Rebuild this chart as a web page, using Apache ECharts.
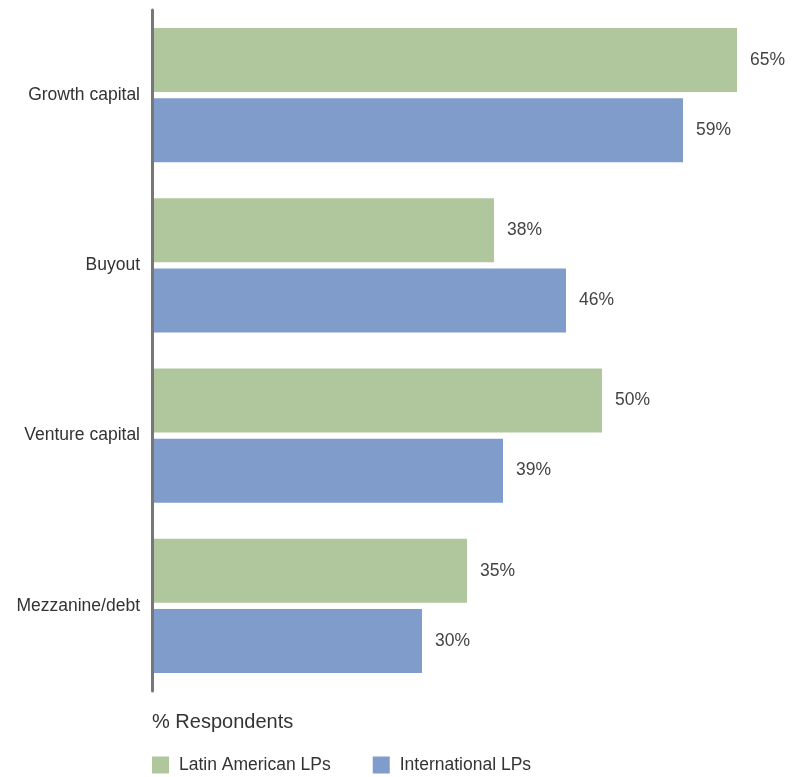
<!DOCTYPE html>
<html><head><meta charset="utf-8">
<script src="https://cdn.jsdelivr.net/npm/echarts@6/dist/echarts.min.js"></script>
<style>html,body{margin:0;padding:0;background:#fff}#c{width:801px;height:777px}</style>
</head><body><div id="c"></div>
<script>
const categories = ["Growth capital", "Buyout", "Venture capital", "Mezzanine/debt"];
const latinAmerican = [65, 38, 50, 35];
const international = [59, 46, 39, 30];
const seriesNames = ["Latin American LPs", "International LPs"];
const axisTitle = "% Respondents";

const chart = echarts.init(document.getElementById('c'));
const font = "'Liberation Sans', Arial, sans-serif";
const lbl = {show: true, position: 'right', distance: 13, formatter: '{c}%', fontSize: 17.5, color: '#444', fontFamily: font};
chart.setOption({
  animation: false,
  title: {text: axisTitle, left: 147, top: 707, textStyle: {fontSize: 20, fontWeight: 'normal', color: '#333', fontFamily: font}},
  legend: {left: 147, top: 751, itemWidth: 17, itemHeight: 17, itemGap: 42, icon: 'rect',
    textStyle: {fontSize: 17.5, color: '#333', fontFamily: font, padding: [0, 0, 0, 5]}, data: seriesNames},
  grid: {left: 152, right: 19, top: 10, bottom: 86},
  xAxis: {type: 'value', min: 0, max: 70, show: false},
  yAxis: {type: 'category', data: categories, inverse: true, z: 5,
    axisLine: {show: true, lineStyle: {color: '#777', width: 3}},
    axisTick: {show: false},
    axisLabel: {fontSize: 17.5, color: '#333', fontFamily: font, margin: 12}},
  series: [
    {name: seriesNames[0], type: 'bar', data: latinAmerican, barWidth: 64, barGap: '9.4%', itemStyle: {color: '#b0c79e'}, label: lbl},
    {name: seriesNames[1], type: 'bar', data: international, barWidth: 64, itemStyle: {color: '#7f9ccb'}, label: lbl}
  ]
});
</script></body></html>
